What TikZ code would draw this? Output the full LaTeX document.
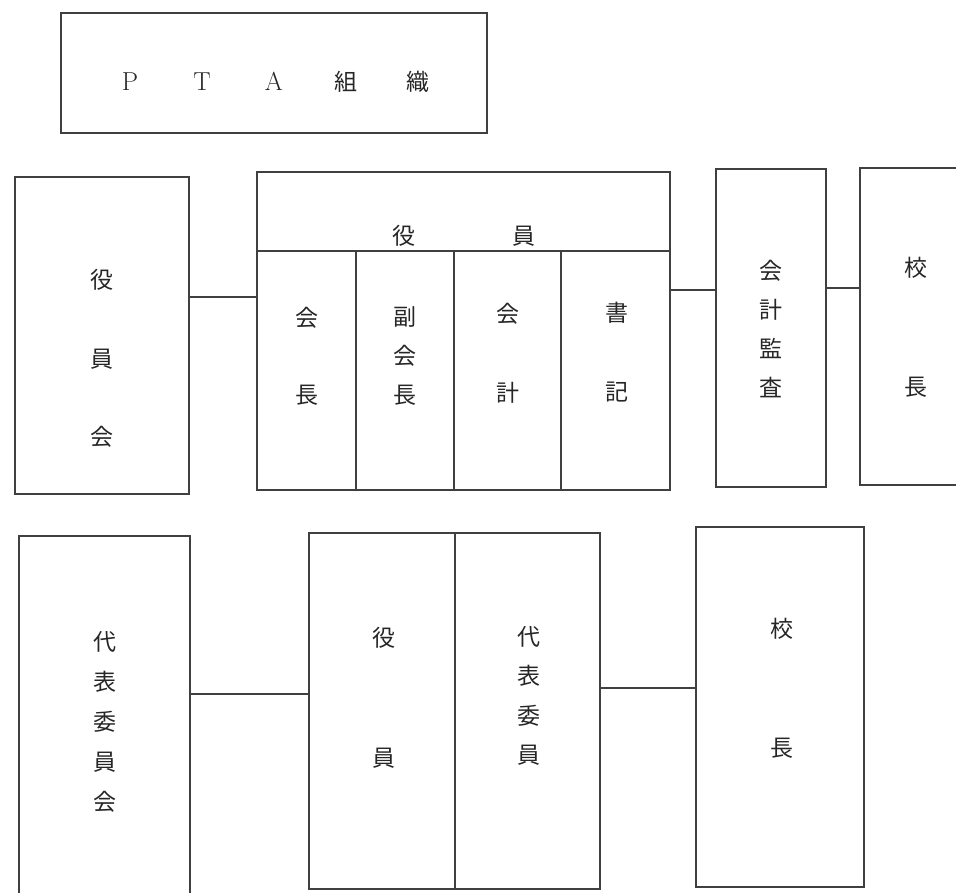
\documentclass[tikz,border=0pt]{standalone}
\usepackage{fontspec}
\newfontfamily\jp{Noto Sans CJK JP}
\usepackage{tikz}

\begin{document}
\begin{tikzpicture}[
		x=1pt, y=-1pt,
		orgbox/.style={draw=black!75, line width=1.1pt, inner sep=0pt},
		vlabel/.style={font=\jp\fontsize{23}{#1}\selectfont, align=center, inner sep=0pt, text=black!85},
		titlelabel/.style={inner sep=0pt, text=black!85},
		link/.style={draw=black!75, line width=1.1pt}
		]

		\useasboundingbox (0,0) rectangle (956,892);
		\clip (0,0) rectangle (956,892);

		\node[orgbox, minimum width=426, minimum height=120] (title) at (274,73) {};
		\node[titlelabel] (titletext) at (274,82) {\fontsize{26}{26}\selectfont
			\makebox[72pt]{P}\makebox[72pt]{T}\makebox[72pt]{A}\makebox[72pt]{\jp\fontsize{23}{23}\selectfont 組}\makebox[72pt]{\jp\fontsize{23}{23}\selectfont 織}};

		\node[orgbox, minimum width=174, minimum height=317] (boardmtg) at (102,335.5) {};
		\node[orgbox, minimum width=413, minimum height=79] (officers) at (463.5,211.5) {};
		\node[orgbox, minimum width=99, minimum height=239] (president) at (306.5,370.5) {};
		\node[orgbox, minimum width=98, minimum height=239] (vicepres) at (405,370.5) {};
		\node[orgbox, minimum width=107, minimum height=239] (treasurer) at (507.5,370.5) {};
		\node[orgbox, minimum width=109, minimum height=239] (secretary) at (615.5,370.5) {};
		\node[orgbox, minimum width=110, minimum height=318] (auditor) at (771,328) {};
		\node[orgbox, minimum width=112, minimum height=317] (principala) at (916,326.5) {};

		\node[orgbox, minimum width=171, minimum height=374] (repmtg) at (104.5,723) {};
		\node[orgbox, minimum width=146, minimum height=356] (offcell) at (382,711) {};
		\node[orgbox, minimum width=145, minimum height=356] (repcell) at (527.5,711) {};
		\node[orgbox, minimum width=168, minimum height=360] (principalb) at (780,707) {};

		\node[vlabel=78.5] (boardmtgtext) at (102,358.5) {役\\員\\会};
		\node[vlabel=23] (officerstext) at (464,235.5) {役\hspace{97pt}員};
		\node[vlabel=77] (presidenttext) at (307,356.5) {会\\長};
		\node[vlabel=39] (viceprestext) at (405,356) {副\\会\\長};
		\node[vlabel=79] (treasurertext) at (508,353.5) {会\\計};
		\node[vlabel=79] (secretarytext) at (617,352.5) {書\\記};
		\node[vlabel=39.3] (auditortext) at (771,329) {会\\計\\監\\査};
		\node[vlabel=119] (principalatext) at (916,327.5) {校\\長};

		\node[vlabel=40] (repmtgtext) at (105,722) {代\\表\\委\\員\\会};
		\node[vlabel=120] (offcelltext) at (383.5,698) {役\\員};
		\node[vlabel=39.3] (repcelltext) at (529,696) {代\\表\\委\\員};
		\node[vlabel=119] (principalbtext) at (782,688.5) {校\\長};

		\coordinate (lvla) at (0,297);
		\coordinate (lvlb) at (0,290);
		\coordinate (lvlc) at (0,288);
		\coordinate (lvld) at (0,694);
		\coordinate (lvle) at (0,688);

		\draw[link] (boardmtg.east |- lvla) -- (president.west |- lvla);
		\draw[link] (secretary.east |- lvlb) -- (auditor.west |- lvlb);
		\draw[link] (auditor.east |- lvlc) -- (principala.west |- lvlc);
		\draw[link] (repmtg.east |- lvld) -- (offcell.west |- lvld);
		\draw[link] (repcell.east |- lvle) -- (principalb.west |- lvle);
	\end{tikzpicture}
\end{document}
